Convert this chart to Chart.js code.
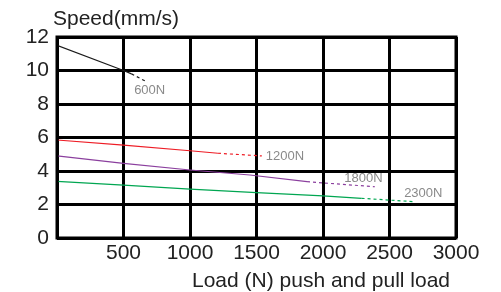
<!DOCTYPE html>
<html>
<head>
<meta charset="utf-8">
<script src="https://cdn.jsdelivr.net/npm/chart.js@4/dist/chart.umd.min.js"></script>
<style>
  html, body { margin: 0; padding: 0; background: #fff; }
  #wrap { position: relative; width: 501px; height: 292px; }
</style>
</head>
<body>
<div id="wrap"><canvas id="chart"></canvas></div>
<script>
// load (N) values and speed (mm/s) per curve; last segment is the dotted one
var black600X = [0, 500, 560, 680];
var black600Y = [11.5, 10, 9.8, 9.3];
var red1200X = [0, 500, 1000, 1210, 1540];
var red1200Y = [5.85, 5.55, 5.21, 5.06, 4.9];
var purple1800X = [0, 500, 1000, 1450, 1880, 2390];
var purple1800Y = [4.9, 4.46, 4.06, 3.76, 3.36, 3.06];
var green2300X = [0, 500, 1000, 1500, 2000, 2290, 2680];
var green2300Y = [3.38, 3.16, 2.92, 2.71, 2.51, 2.37, 2.17];
var curveNames = ['600N', '1200N', '1800N', '2300N'];

var xTicks = [0, 500, 1000, 1500, 2000, 2500, 3000];
var yTicks = [0, 2, 4, 6, 8, 10, 12];

var FONT = '"Liberation Sans", Arial, sans-serif';

function pts(xs, ys) {
  return xs.map(function (x, i) { return { x: x, y: ys[i] }; });
}

function curve(name, xs, ys, color) {
  var last = xs.length - 1;
  return {
    label: name,
    data: pts(xs, ys),
    borderColor: color,
    borderWidth: 1.2,
    pointRadius: 0,
    fill: false,
    tension: 0,
    segment: {
      borderDash: function (ctx) { return ctx.p1DataIndex === last ? [3, 3] : undefined; }
    }
  };
}

// where each curve's name is written, in data units
var nameAnchors = [
  { x: 580, y: 8.8 },
  { x: 1570, y: 4.9 },
  { x: 2160, y: 3.55 },
  { x: 2610, y: 2.65 }
];

var curveLabels = {
  id: 'curveLabels',
  afterDatasetsDraw: function (chart) {
    var c = chart.ctx, xs = chart.scales.x, ys = chart.scales.y;
    c.save();
    c.font = '13px ' + FONT;
    c.fillStyle = '#8a8a8a';
    c.textBaseline = 'middle';
    c.textAlign = 'left';
    curveNames.forEach(function (n, i) {
      c.fillText(n, xs.getPixelForValue(nameAnchors[i].x), ys.getPixelForValue(nameAnchors[i].y));
    });
    c.restore();
  }
};

var axisTitles = {
  id: 'axisTitles',
  afterDraw: function (chart) {
    var c = chart.ctx;
    c.save();
    c.font = '21px ' + FONT;
    c.fillStyle = '#222';
    c.textBaseline = 'alphabetic';
    c.textAlign = 'left';
    c.fillText('Speed(mm/s)', 53, 25);
    c.textAlign = 'right';
    c.fillText('Load (N) push and pull load', 450, 287);
    c.restore();
  }
};

var border = {
  id: 'border',
  afterDatasetsDraw: function (chart) {
    var c = chart.ctx, a = chart.chartArea;
    c.save();
    c.strokeStyle = '#000';
    c.lineWidth = 3;
    c.strokeRect(a.left, a.top, a.right - a.left, a.bottom - a.top);
    c.restore();
  }
};

new Chart(document.getElementById('chart'), {
  type: 'line',
  data: {
    datasets: [
      curve('600N', black600X, black600Y, '#1a1a1a'),
      curve('1200N', red1200X, red1200Y, '#ee1c25'),
      curve('1800N', purple1800X, purple1800Y, '#8b3f9e'),
      curve('2300N', green2300X, green2300Y, '#00a651')
    ]
  },
  options: {
    responsive: true,
    maintainAspectRatio: false,
    animation: false,
    layout: { padding: { left: 0, right: 45, top: 37, bottom: 0 } },
    plugins: { legend: { display: false }, tooltip: { enabled: false } },
    scales: {
      x: {
        type: 'linear',
        min: 0, max: 3000,
        afterBuildTicks: function (s) { s.ticks = xTicks.map(function (v) { return { value: v }; }); },
        grid: { color: '#000', lineWidth: 3, drawTicks: false },
        border: { display: false },
        ticks: {
          padding: 3,
          color: '#222',
          font: { family: FONT, size: 21 },
          maxRotation: 0,
          callback: function (v) { return v === 0 ? '' : v; }
        },
        afterFit: function (s) { s.height = 292 - 238; }
      },
      y: {
        min: 0, max: 12,
        afterBuildTicks: function (s) { s.ticks = yTicks.map(function (v) { return { value: v }; }); },
        grid: { color: '#000', lineWidth: 3, drawTicks: false },
        border: { display: false },
        ticks: {
          padding: 8,
          color: '#222',
          font: { family: FONT, size: 21 }
        },
        afterFit: function (s) { s.width = 57; }
      }
    }
  },
  plugins: [border, curveLabels, axisTitles]
});
</script>
</body>
</html>
